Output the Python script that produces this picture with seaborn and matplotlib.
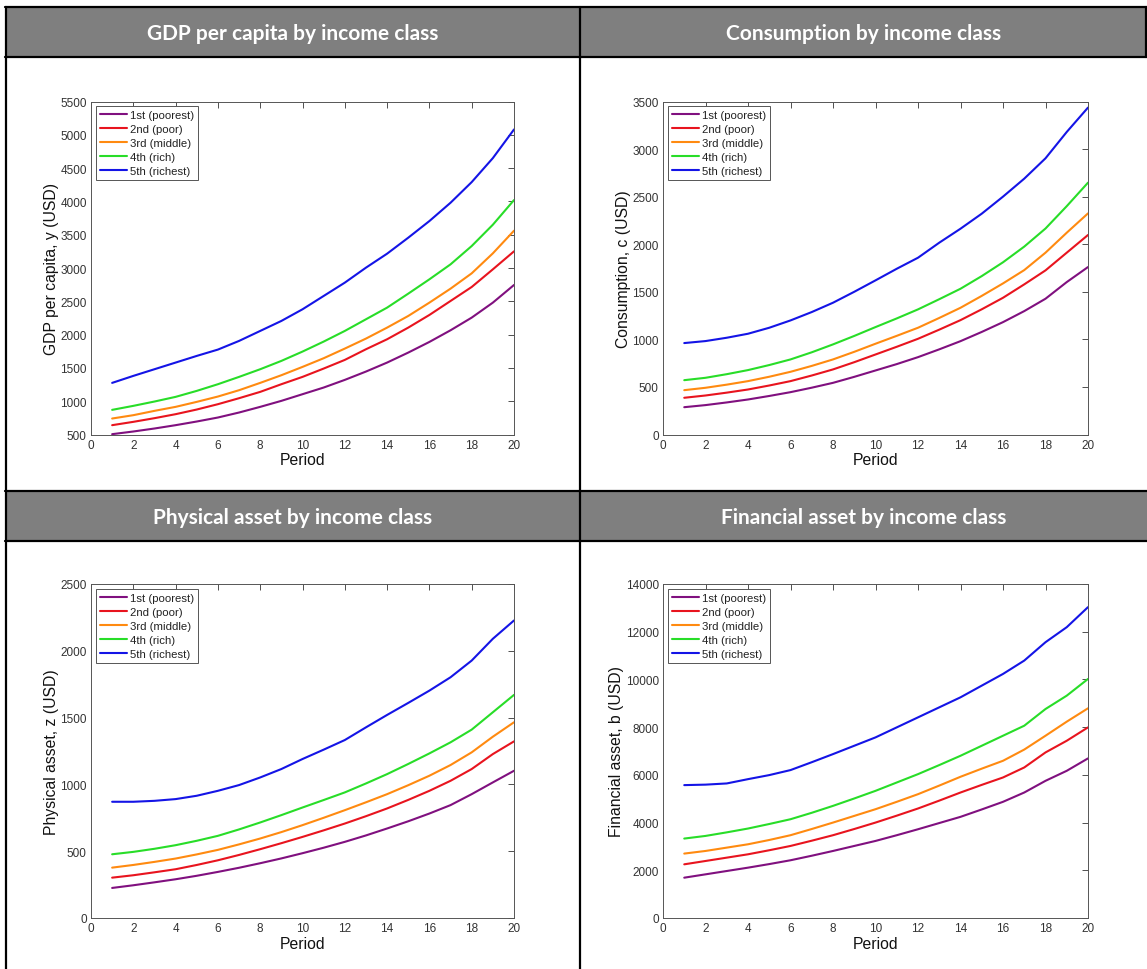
import numpy as np
import pandas as pd
import matplotlib
matplotlib.use("Agg")
import matplotlib.pyplot as plt
from matplotlib.patches import Rectangle
from matplotlib.lines import Line2D
import seaborn as sns

# ---- data -------------------------------------------------------------
periods = list(range(1, 21))
classes = ["1st (poorest)", "2nd (poor)", "3rd (middle)", "4th (rich)", "5th (richest)"]
class_colors = ["#80107f", "#e8141e", "#ff8a10", "#28dd28", "#1414e6"]

gdp_poorest = [505, 545, 590, 640, 695, 755, 830, 915, 1005, 1105, 1205, 1320, 1445, 1580, 1730, 1890, 2065, 2255, 2480, 2745]
gdp_poor = [640, 690, 745, 805, 875, 955, 1045, 1140, 1255, 1365, 1490, 1620, 1780, 1930, 2105, 2295, 2505, 2715, 2980, 3250]
gdp_middle = [740, 790, 855, 915, 990, 1070, 1165, 1275, 1390, 1515, 1645, 1790, 1940, 2105, 2280, 2480, 2690, 2920, 3220, 3560]
gdp_rich = [870, 930, 995, 1065, 1155, 1255, 1365, 1480, 1605, 1745, 1895, 2055, 2230, 2405, 2615, 2830, 3055, 3330, 3650, 4020]
gdp_richest = [1275, 1380, 1480, 1580, 1680, 1775, 1905, 2055, 2205, 2380, 2580, 2780, 3005, 3215, 3455, 3705, 3980, 4290, 4650, 5080]

cons_poorest = [287, 309, 337, 368, 405, 445, 492, 543, 606, 673, 740, 813, 895, 981, 1078, 1181, 1297, 1427, 1602, 1760]
cons_poor = [386, 410, 440, 473, 515, 561, 620, 684, 760, 841, 922, 1006, 1102, 1202, 1316, 1437, 1578, 1725, 1911, 2097]
cons_middle = [466, 491, 524, 561, 607, 659, 721, 789, 869, 954, 1037, 1122, 1225, 1332, 1457, 1588, 1728, 1911, 2121, 2324]
cons_rich = [571, 596, 634, 677, 730, 789, 864, 947, 1036, 1129, 1220, 1315, 1422, 1532, 1665, 1810, 1975, 2165, 2400, 2647]
cons_richest = [961, 982, 1017, 1059, 1122, 1199, 1287, 1385, 1500, 1620, 1742, 1858, 2016, 2163, 2321, 2500, 2689, 2903, 3180, 3436]

phys_poorest = [225, 245, 267, 290, 316, 345, 376, 410, 446, 485, 526, 570, 618, 670, 724, 782, 845, 927, 1015, 1102]
phys_poor = [302, 320, 342, 365, 397, 432, 472, 515, 560, 607, 656, 707, 762, 820, 884, 952, 1027, 1115, 1227, 1322]
phys_middle = [377, 397, 420, 445, 476, 510, 551, 595, 643, 695, 750, 807, 866, 927, 994, 1065, 1145, 1240, 1357, 1465]
phys_rich = [477, 495, 518, 545, 578, 615, 663, 715, 770, 827, 883, 940, 1007, 1077, 1153, 1232, 1315, 1410, 1540, 1670]
phys_richest = [870, 870, 877, 890, 915, 952, 995, 1052, 1115, 1190, 1260, 1332, 1427, 1520, 1610, 1702, 1802, 1927, 2090, 2227]

fin_poorest = [1690, 1830, 1970, 2110, 2260, 2420, 2610, 2810, 3020, 3230, 3470, 3720, 3980, 4240, 4550, 4870, 5260, 5750, 6170, 6690]
fin_poor = [2250, 2390, 2530, 2670, 2840, 3020, 3240, 3470, 3730, 4000, 4290, 4590, 4920, 5260, 5580, 5890, 6310, 6940, 7430, 7990]
fin_middle = [2700, 2810, 2950, 3090, 3270, 3470, 3730, 4000, 4280, 4560, 4870, 5190, 5550, 5920, 6260, 6590, 7060, 7640, 8230, 8790]
fin_rich = [3330, 3440, 3590, 3750, 3940, 4140, 4410, 4700, 5010, 5330, 5680, 6030, 6410, 6800, 7220, 7640, 8060, 8760, 9320, 10020]
fin_richest = [5570, 5590, 5640, 5820, 5990, 6200, 6530, 6870, 7220, 7570, 7990, 8410, 8830, 9250, 9740, 10230, 10790, 11560, 12190, 13030]

panel_titles = ["GDP per capita by income class", "Consumption by income class",
                "Physical asset by income class", "Financial asset by income class"]
y_labels = ["GDP per capita, y (USD)", "Consumption, c (USD)",
            "Physical asset, z (USD)", "Financial asset, b (USD)"]
y_ranges = [(500, 5500, 500), (0, 3500, 500), (0, 2500, 500), (0, 14000, 2000)]
x_ticks = list(range(0, 21, 2))

panel_series = [
    [gdp_poorest, gdp_poor, gdp_middle, gdp_rich, gdp_richest],
    [cons_poorest, cons_poor, cons_middle, cons_rich, cons_richest],
    [phys_poorest, phys_poor, phys_middle, phys_rich, phys_richest],
    [fin_poorest, fin_poor, fin_middle, fin_rich, fin_richest],
]


def long_frame(series):
    rows = []
    for cls, vals in zip(classes, series):
        for p, v in zip(periods, vals):
            rows.append({"Period": p, "Value": v, "Class": cls})
    return pd.DataFrame(rows)


# ---- figure & page layout (pixel based) --------------------------------
sns.set_theme(style="white")
plt.rcParams["font.family"] = ["Liberation Sans", "DejaVu Sans"]

W, H = 1147, 970
fig = plt.figure(figsize=(W / 100, H / 100), dpi=100)
fig.patch.set_facecolor("white")


def fx(px):
    return px / W


def fy(py):
    return 1 - py / H


def rect(x0, y0, x1, y1):
    return [fx(x0), fy(y1), fx(x1) - fx(x0), fy(y0) - fy(y1)]


# header bands
headers = [(8, 58), (492, 542)]
for (y0, y1) in headers:
    fig.add_artist(Rectangle((fx(5), fy(y1)), fx(W) - fx(5), fy(y0) - fy(y1),
                             transform=fig.transFigure, facecolor="#7f7f7f",
                             edgecolor="none", zorder=0))

# table rules
rule_kw = dict(transform=fig.transFigure, color="black", linewidth=1.6, zorder=5)
for (y0, y1) in headers:
    for yy in (y0, y1):
        fig.add_artist(Line2D([fx(5), fx(W)], [fy(yy), fy(yy)], **rule_kw))
fig.add_artist(Line2D([fx(5.5), fx(5.5)], [fy(8), fy(H)], **rule_kw))
fig.add_artist(Line2D([fx(580), fx(580)], [fy(8), fy(H)], **rule_kw))
fig.add_artist(Line2D([fx(1146), fx(1146)], [fy(8), fy(58)], **rule_kw))

cell_centers = [292.5, 863.5]
for i, title in enumerate(panel_titles):
    row, col = divmod(i, 2)
    y0, y1 = headers[row]
    fig.text(fx(cell_centers[col]), fy((y0 + y1) / 2 + 1), title,
             ha="center", va="center", color="white", fontsize=15,
             fontweight="bold", family=["Lato", "DejaVu Sans"], zorder=6)

axes_boxes = [
    (91, 102.5, 514, 435.5),
    (663, 102.5, 1088, 435.5),
    (91, 585, 514, 919),
    (663, 585, 1088, 919),
]

palette = dict(zip(classes, class_colors))

for i, (series, box) in enumerate(zip(panel_series, axes_boxes)):
    ax = fig.add_axes(rect(*box))
    df = long_frame(series)
    sns.lineplot(data=df, x="Period", y="Value", hue="Class", hue_order=classes,
                 palette=palette, linewidth=1.5, ax=ax, legend=True)
    lo, hi, step = y_ranges[i]
    ax.set_xlim(0, 20)
    ax.set_ylim(lo, hi)
    ax.set_xticks(x_ticks)
    ax.set_yticks(np.arange(lo, hi + step, step))
    ax.set_xlabel("Period", fontsize=11.3, labelpad=1, color="#111111")
    ax.set_ylabel(y_labels[i], fontsize=11.3, labelpad=1, color="#111111")
    ax.tick_params(direction="in", length=4, width=0.6, top=True, right=True,
                   labelsize=8.5, colors="#333333", pad=3)
    for sp in ax.spines.values():
        sp.set_visible(True)
        sp.set_color("#555555")
        sp.set_linewidth(0.7)
    handles, labels = ax.get_legend_handles_labels()
    leg = ax.legend(handles, labels, loc="upper left", fontsize=8.2,
                    frameon=True, fancybox=False, framealpha=1,
                    edgecolor="#555555", borderpad=0.35, labelspacing=0.36,
                    handlelength=2.4, handletextpad=0.3,
                    borderaxespad=0.4)
    leg.get_frame().set_linewidth(0.7)
    for t in leg.get_texts():
        t.set_color("#222222")

fig.savefig("out.png", dpi=100, facecolor="white")
